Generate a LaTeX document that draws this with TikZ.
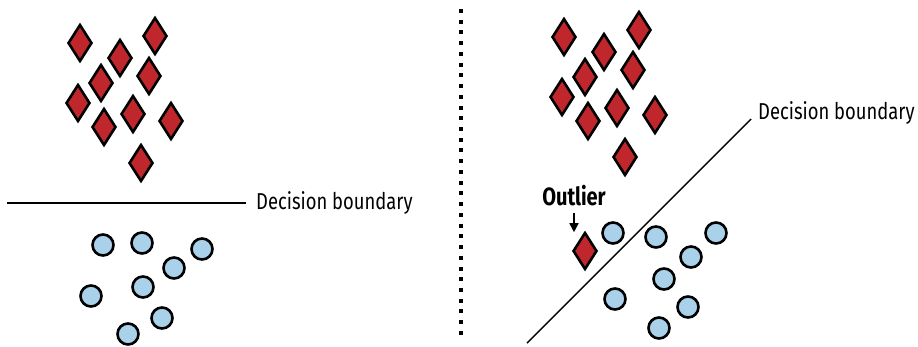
\documentclass[tikz,border=0pt]{standalone}
\usepackage{fontspec}
\setmainfont{Fira Sans}
\newfontfamily\condfont[FakeStretch=0.8]{Fira Sans}
\usetikzlibrary{shapes.geometric,arrows.meta,positioning}
\definecolor{ptred}{HTML}{C0272D}
\definecolor{ptblue}{HTML}{A9D1EA}

\begin{document}
\begin{tikzpicture}[x=1pt, y=-1pt,
    redpt/.style={diamond, draw=black, fill=ptred, line width=2.6pt, inner sep=0pt, minimum width=24pt, minimum height=37pt},
    bluept/.style={circle, draw=black, fill=ptblue, line width=2.6pt, inner sep=0pt, minimum size=21pt},
    boundary/.style={line width=1.4pt},
    divider/.style={line width=4pt, dash pattern=on 4pt off 6.73pt},
    lbl/.style={font=\condfont\fontsize{23}{26}\selectfont, inner sep=0pt}
]
    \useasboundingbox (0,0) rectangle (918,346);

    % Left: separable classes
    \foreach \x/\y [count=\i] in {80/43,155/36,120/58,101/83,149/76,78/103,104/127,133/114,171/121,141/163} {
        \node[redpt] (ld\i) at (\x,\y) {};
    }
    \foreach \x/\y [count=\i] in {103/245,142/243,202/249,174/268,143/287,91/296,162/318,128/334} {
        \node[bluept] (lc\i) at (\x,\y) {};
    }

    % Left boundary
    \coordinate (lb1) at (7,203);
    \coordinate (lb2) at (246,203);
    \draw[boundary] (lb1) -- (lb2);
    \node[lbl, anchor=west, right=10pt of lb2] (llbl) {Decision boundary};

    % Divider
    \coordinate (dtop) at (461,9);
    \coordinate (dbot) at (461,340);
    \draw[divider] (dtop) -- (dbot);

    % Right: same classes plus an outlier
    \begin{scope}[shift={(484,-6)}]
    \foreach \x/\y [count=\i] in {80/43,155/36,120/58,101/83,149/76,78/103,104/127,133/114,171/121,141/163} {
        \node[redpt] (rd\i) at (\x,\y) {};
    }
    \end{scope}
    \foreach \x/\y [count=\i] in {613/233,656/237,716/233,691/257,664/279,615/299,688/307,659/328} {
        \node[bluept] (rc\i) at (\x,\y) {};
    }

    % Right boundary
    \coordinate (rb1) at (527,343);
    \coordinate (rb2) at (751,119);
    \draw[boundary] (rb1) -- (rb2);
    \node[lbl, anchor=base west] (rlbl) at ([xshift=7pt]rb2) {Decision boundary};

    % Outlier
    \node[redpt] (odiam) at (585,251) {};
    \node[lbl, font=\condfont\bfseries\fontsize{25}{28}\selectfont] (olbl) at (574,196) {Outlier};
    \draw[-{Triangle[length=9pt,width=9pt]}, line width=1.6pt] ([yshift=-6pt]olbl.south) -- ([yshift=-1pt]olbl.south |- odiam.north);

\end{tikzpicture}
\end{document}
